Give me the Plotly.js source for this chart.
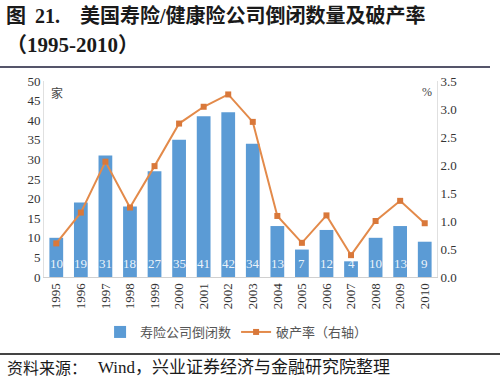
<!DOCTYPE html>
<html>
<head>
<meta charset="utf-8">
<script src="https://cdn.plot.ly/plotly-3.0.1.min.js"></script>
<style>html,body{margin:0;padding:0;background:#fff;}#chart{width:500px;height:380px;}</style>
</head>
<body>
<div id="chart"></div>
<script>
const years = ['1995','1996','1997','1998','1999','2000','2001','2002','2003','2004','2005','2006','2007','2008','2009','2010'];
const closures = [10,19,31,18,27,35,41,42,34,13,7,12,4,10,13,9];
const bankruptcyRate = [0.6,1.15,2.06,1.24,1.98,2.74,3.04,3.26,2.77,1.09,0.61,1.1,0.39,1.0,1.36,0.96];

const serif = 'Liberation Serif, Times New Roman, serif';
const cjk = 'Noto Sans CJK SC, sans-serif';
const mixed = 'Liberation Serif, Noto Sans CJK SC, serif';

const traces = [
  {
    type: 'bar', x: years, y: closures, name: '寿险公司倒闭数',
    marker: {color: '#5B9BD5'}, width: 0.56,
    textposition: 'none', hoverinfo: 'x+y'
  },
  {
    type: 'scatter', mode: 'lines+markers', x: years, y: bankruptcyRate, yaxis: 'y2',
    name: '破产率（右轴）', line: {color: '#E38A4A', width: 2},
    marker: {symbol: 'square', size: 6, color: '#D9783A'}
  }
];

const px = (v) => (v - 44) / 393;
const py = (v) => (277 - v) / 196;

// value labels placed on the category axis by index, at the bottom of each bar
const valueLabels = years.map((yr, i) => ({
  x: i, y: 0, xref: 'x', yref: 'y', yanchor: 'bottom', yshift: 4,
  text: String(closures[i]), showarrow: false,
  font: {family: serif, size: 13, color: 'rgba(255,255,255,0.9)'}
}));

const note = (x, y, text, font, anchor) => ({
  xref: 'paper', yref: 'paper', x: px(x), y: py(y), xanchor: anchor || 'left', yanchor: 'middle',
  text: text, showarrow: false, font: font
});

const titleFont = {family: mixed, size: 20, color: '#1a1a1a'};

const layout = {
  width: 500, height: 380,
  margin: {l: 44, r: 63, t: 81, b: 103},
  paper_bgcolor: '#fff', plot_bgcolor: '#fff',
  showlegend: true,
  legend: {orientation: 'h', x: 0.49, xanchor: 'center', y: py(332), yanchor: 'middle',
           font: {family: cjk, size: 13, color: '#555'}, itemwidth: 30, tracegroupgap: 0},
  xaxis: {type: 'category', range: [-0.5, years.length - 0.5], tickangle: -90, showgrid: false,
          showline: true, linecolor: '#d0d0d0',
          ticks: '', tickfont: {family: serif, size: 13, color: '#333'}, fixedrange: true},
  yaxis: {range: [0, 50], dtick: 5, showgrid: false, showline: true, linecolor: '#e0e0e0',
          ticks: '', tickfont: {family: serif, size: 13, color: '#333'}, zeroline: false},
  yaxis2: {range: [0, 3.5], dtick: 0.5, tickformat: '.1f', overlaying: 'y', side: 'right',
           showgrid: false, showline: true, linecolor: '#e0e0e0', ticks: '',
           tickfont: {family: serif, size: 13, color: '#333'}, zeroline: false},
  annotations: [
    note(4, 16, '<b>图</b>', titleFont),
    note(33, 16, '<b>21.</b>', titleFont),
    note(78, 16, '<b>美国寿险/健康险公司倒闭数量及破产率</b>', titleFont),
    note(4, 45, '<b>（1995-2010）</b>', {family: mixed, size: 21, color: '#1a1a1a'}),
    note(57, 92, '家', {family: cjk, size: 12, color: '#444'}, 'center'),
    note(427, 92, '%', {family: serif, size: 12, color: '#444'}, 'center'),
    note(5, 367, '资料来源：', {family: cjk, size: 16, color: '#1a1a1a'}),
    note(96, 367, 'Wind，兴业证券经济与金融研究院整理', {family: mixed, size: 17, color: '#1a1a1a'})
  ].concat(valueLabels),
  shapes: [
    {type: 'line', xref: 'paper', yref: 'paper', x0: px(0), x1: px(490),
     y0: py(67), y1: py(67), line: {color: '#55556a', width: 2}},
    {type: 'line', xref: 'paper', yref: 'paper', x0: px(0), x1: px(500),
     y0: py(354), y1: py(354), line: {color: '#444', width: 2}}
  ]
};

Plotly.newPlot('chart', traces, layout, {displayModeBar: false, staticPlot: true});
</script>
</body>
</html>
